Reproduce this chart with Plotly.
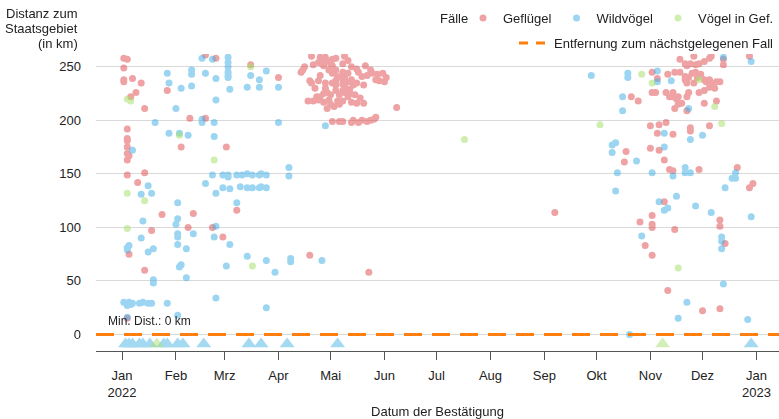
import plotly.graph_objects as go

# ---- Daten ---------------------------------------------------------------
# Geflügel: Datum der Bestätigung und Distanz zum Staatsgebiet (km)
gefluegel_datum = [
    "2022-01-02", "2022-01-04", "2022-01-02", "2022-01-02", "2022-01-02", "2022-01-07", "2022-01-12",
    "2022-01-09", "2022-01-06", "2022-01-14", "2022-01-04", "2022-01-04", "2022-01-04", "2022-01-04",
    "2022-01-04", "2022-01-05", "2022-01-04", "2022-01-04", "2022-01-14", "2022-01-10", "2022-01-27",
    "2022-02-09", "2022-02-18", "2022-02-04", "2022-03-02", "2022-02-24", "2022-02-18", "2022-03-16",
    "2022-04-01", "2022-01-24", "2022-01-18", "2022-01-05", "2022-01-14", "2022-01-04", "2022-02-11",
    "2022-02-08", "2022-02-22", "2022-02-28", "2022-03-08", "2022-04-19", "2022-05-23", "2022-06-08",
    "2022-09-07",
    "2022-04-20", "2022-04-25", "2022-04-28", "2022-05-09", "2022-04-24", "2022-04-26", "2022-04-26",
    "2022-04-27", "2022-04-27", "2022-04-29", "2022-05-01", "2022-05-02", "2022-05-08", "2022-05-11",
    "2022-05-21", "2022-04-16", "2022-04-15", "2022-04-14", "2022-05-02", "2022-05-08", "2022-05-08",
    "2022-05-11", "2022-05-17", "2022-05-19", "2022-05-22", "2022-05-25", "2022-05-28", "2022-05-31",
    "2022-06-02", "2022-05-29", "2022-06-01", "2022-04-19", "2022-04-20", "2022-04-24", "2022-04-28",
    "2022-05-02", "2022-05-04", "2022-05-08", "2022-05-08", "2022-05-09", "2022-05-13", "2022-05-16",
    "2022-05-11", "2022-05-14", "2022-04-28", "2022-05-04", "2022-05-08", "2022-05-12", "2022-04-27",
    "2022-04-29", "2022-05-01", "2022-04-23", "2022-04-25", "2022-04-18", "2022-04-21", "2022-04-24",
    "2022-04-27", "2022-04-30", "2022-05-01", "2022-05-05", "2022-05-08", "2022-05-11", "2022-05-13",
    "2022-05-16", "2022-05-20", "2022-05-12", "2022-05-09", "2022-05-02", "2022-05-06", "2022-05-08",
    "2022-05-13", "2022-05-14", "2022-05-17", "2022-05-19", "2022-05-22", "2022-05-24", "2022-05-26",
    "2022-05-27", "2022-04-21", "2022-04-30", "2022-05-04", "2022-05-05", "2022-04-25", "2022-04-22",
    "2022-05-06", "2022-05-15", "2022-05-18", "2022-05-06", "2022-05-03", "2022-04-29", "2022-05-04",
    "2022-05-02", "2022-05-13", "2022-05-16", "2022-05-24", "2022-05-27", "2022-05-20", "2022-05-09",
    "2022-05-04",
    "2022-10-21", "2022-10-25", "2022-11-02", "2022-11-05", "2022-11-11", "2022-11-15", "2022-11-18",
    "2022-11-21", "2022-11-22", "2022-11-24", "2022-11-27", "2022-11-29", "2022-12-02", "2022-12-05",
    "2022-12-06", "2022-12-13", "2022-12-13", "2022-12-28", "2022-11-26", "2022-11-18", "2022-11-21",
    "2022-11-21", "2022-11-22", "2022-11-23", "2022-11-25", "2022-11-26", "2022-11-27", "2022-11-28",
    "2022-11-30", "2022-12-02", "2022-12-04", "2022-12-05", "2022-12-06", "2022-12-08", "2022-12-09",
    "2022-12-11", "2022-11-29", "2022-12-02", "2022-12-05", "2022-12-03", "2022-11-02", "2022-11-04",
    "2022-11-10", "2022-11-12", "2022-11-14", "2022-11-14", "2022-11-16", "2022-11-17", "2022-11-19",
    "2022-11-22", "2022-11-23", "2022-11-17", "2022-11-15", "2022-11-22", "2022-12-02", "2022-12-09",
    "2022-12-05", "2022-11-24", "2022-11-24", "2022-11-01", "2022-11-06", "2022-11-10", "2022-11-05",
    "2022-11-14", "2022-10-18", "2022-11-01", "2022-11-06", "2022-11-09", "2022-10-17", "2022-11-12",
    "2022-11-14", "2022-11-29", "2022-12-21", "2022-12-30", "2022-12-28", "2022-10-26", "2022-10-29",
    "2022-11-02", "2022-11-02", "2022-11-02", "2022-11-02", "2022-11-09", "2022-11-15", "2022-12-11",
    "2022-12-11", "2022-12-14", "2022-11-11", "2022-12-01", "2022-12-11",
]
gefluegel_km = [
    258, 257, 249, 238, 236, 239, 235,
    226, 222, 211, 192, 183, 181, 175,
    169, 167, 163, 149, 151, 142, 228,
    202, 202, 175, 175, 258, 261, 252,
    240, 112, 97, 75, 60, 15, 113,
    100, 100, 91, 116, 74, 58, 212,
    114,
    260, 259, 259, 260, 254, 256, 253,
    255, 251, 255, 253, 251, 253, 256,
    251, 250, 247, 245, 244, 245, 242,
    244, 245, 241, 242, 244, 243, 244,
    240, 237, 236, 237, 235, 237, 235,
    235, 237, 238, 234, 240, 238, 235,
    236, 233, 230, 228, 228, 229, 225,
    226, 224, 222, 222, 218, 218, 219,
    217, 219, 215, 218, 218, 222, 217,
    216, 216, 225, 226, 199, 199, 199,
    198, 200, 198, 200, 199, 200, 201,
    203, 252, 247, 247, 241, 242, 230,
    224, 224, 221, 215, 213, 211, 258,
    257, 250, 248, 247, 238, 233, 232,
    233,
    222, 218, 245, 239, 243, 245, 257,
    253, 251, 253, 252, 253, 255, 258,
    260, 257, 252, 260, 260, 245, 241,
    238, 235, 240, 244, 235, 245, 240,
    243, 238, 236, 238, 235, 230, 236,
    236, 226, 228, 231, 236, 226, 226,
    226, 222, 226, 222, 220, 222, 216,
    222, 226, 215, 211, 209, 216, 218,
    195, 193, 190, 195, 196, 198, 188,
    187, 171, 174, 172, 163, 161, 154,
    153, 154, 156, 141, 137, 105, 83,
    74, 111, 103, 100, 124, 98, 107,
    101, 85, 41, 22, 24,
]

# Wildvögel
wildvoegel_datum = [
    "2022-01-27", "2022-01-28", "2022-02-04", "2022-02-10", "2022-02-10", "2022-02-10", "2022-02-18",
    "2022-02-16", "2022-02-22", "2022-02-24", "2022-02-24", "2022-02-01", "2022-01-20", "2022-02-16",
    "2022-02-16", "2022-02-23", "2022-01-28", "2022-02-03", "2022-02-08", "2022-02-23", "2022-01-07",
    "2022-01-16", "2022-02-18", "2022-03-03", "2022-03-03", "2022-03-03", "2022-03-03", "2022-03-03",
    "2022-03-04", "2022-03-14", "2022-03-21", "2022-03-21", "2022-03-25", "2022-03-16", "2022-04-01",
    "2022-04-01", "2022-04-07", "2022-04-07",
    "2022-02-22", "2022-02-28", "2022-03-03", "2022-03-08", "2022-03-11", "2022-03-14", "2022-03-17",
    "2022-03-21", "2022-03-22", "2022-03-25", "2022-03-03",
    "2022-02-28", "2022-03-04", "2022-03-10", "2022-03-14", "2022-03-17", "2022-03-21", "2022-03-22",
    "2022-03-25",
    "2022-02-24", "2022-01-12", "2022-01-18", "2022-02-02", "2022-03-08", "2022-01-13", "2022-02-02",
    "2022-02-01", "2022-02-02", "2022-02-02", "2022-02-11", "2022-01-12", "2022-01-05", "2022-01-04",
    "2022-01-04", "2022-01-19", "2022-01-16", "2022-02-02", "2022-02-07", "2022-02-23", "2022-02-24",
    "2022-03-04", "2022-03-14", "2022-03-25", "2022-04-08", "2022-04-08", "2022-03-30", "2022-03-02",
    "2022-02-03", "2022-02-04", "2022-01-19", "2022-01-19", "2022-02-07", "2022-02-24", "2022-03-25",
    "2022-01-02", "2022-01-05", "2022-01-07", "2022-01-11", "2022-01-13", "2022-01-16", "2022-01-18",
    "2022-01-27", "2022-01-04", "2022-01-06",
    "2022-02-02", "2022-01-04", "2022-04-26", "2022-04-28", "2022-03-03",
    "2022-09-28", "2022-10-16", "2022-10-16", "2022-10-19", "2022-10-19", "2022-11-05", "2022-11-05",
    "2022-11-13", "2022-12-13", "2022-12-29", "2022-11-23", "2022-11-09", "2022-11-09", "2022-11-24",
    "2022-12-01", "2022-10-10", "2022-10-12", "2022-10-10", "2022-10-24", "2022-11-21", "2022-11-21",
    "2022-11-24", "2022-11-02", "2022-11-14", "2022-10-13", "2022-12-20", "2022-12-18", "2022-12-20",
    "2022-12-14", "2022-10-12", "2022-10-27", "2022-11-06", "2022-11-09", "2022-11-11", "2022-11-16",
    "2022-11-27", "2022-12-06", "2022-12-12", "2022-12-12", "2022-12-12", "2022-12-29", "2022-12-13",
    "2022-11-22", "2022-11-17", "2022-12-27", "2022-10-20",
]
wildvoegel_km = [
    244, 235, 230, 247, 243, 232, 244,
    258, 257, 239, 219, 211, 198, 201,
    198, 198, 188, 188, 186, 185, 172,
    139, 141, 254, 250, 245, 242, 240,
    229, 231, 238, 231, 246, 242, 231,
    198, 156, 148,
    149, 149, 149, 149, 149, 150, 149,
    149, 150, 149, 147,
    137, 136, 138, 137, 137, 137, 138,
    137,
    132, 131, 132, 123, 123, 106, 108,
    103, 94, 91, 94, 90, 83, 81,
    79, 80, 77, 84, 80, 91, 101,
    84, 73, 69, 71, 68, 58, 64,
    63, 65, 51, 48, 53, 34, 25,
    30, 30, 29, 29, 30, 29, 29,
    29, 27, 28,
    18, 16, 69, 195, 259,
    242, 222, 209, 244, 240, 246, 236,
    237, 259, 255, 211, 175, 188, 182,
    186, 177, 179, 170, 162, 156, 151,
    151, 151, 148, 151, 151, 146, 146,
    137, 134, 92, 124, 116, 118, 129,
    120, 114, 91, 87, 80, 110, 47,
    30, 15, 14, 0,
]

# Vögel in Gefangenschaft
gefangen_datum = [
    "2022-01-04", "2022-01-06", "2022-01-04", "2022-01-14", "2022-01-04", "2022-02-03", "2022-02-23",
    "2022-03-16", "2022-03-17", "2022-07-17", "2022-10-03", "2022-10-27", "2022-11-02", "2022-12-08",
    "2022-12-12", "2022-11-17", "2022-11-29",
]
gefangen_km = [
    220, 218, 132, 125, 99, 186, 163,
    250, 64, 182, 196, 243, 235, 213,
    197, 62, 238,
]

# Fälle innerhalb des Staatsgebiets (Distanz 0)
wildvoegel_inland_datum = [
    "2022-01-03", "2022-01-05", "2022-01-07", "2022-01-11", "2022-01-13", "2022-01-17", "2022-01-25",
    "2022-01-27", "2022-02-02", "2022-02-05", "2022-02-17", "2022-03-15", "2022-03-22", "2022-04-06",
    "2022-05-05", "2022-12-29",
]
gefangen_inland_datum = ["2022-01-21", "2022-11-08"]

monat_ticks = [
    "2022-01-01", "2022-02-01", "2022-03-01", "2022-04-01", "2022-05-01", "2022-06-01", "2022-07-01",
    "2022-08-01", "2022-09-01", "2022-10-01", "2022-11-01", "2022-12-01", "2023-01-01",
]
monat_labels = ["Jan<br>2022", "Feb", "Mrz", "Apr", "Mai", "Jun", "Jul",
                "Aug", "Sep", "Okt", "Nov", "Dez", "Jan<br>2023"]

y_titel_zeilen = ["Distanz zum", "Staatsgebiet", "(in km)"]

# ---- Darstellung -----------------------------------------------------------
X_RANGE = ["2021-12-17", "2023-01-14"]
Y_RANGE = [-15.5, 262]
INLAND_BAND = -9          # Höhe der Dreiecke unterhalb der Nulllinie
FONT = "Liberation Sans, Arial, sans-serif"
TEXT = "#222222"

ROT = "rgb(225,87,89)"
BLAU = "rgb(74,179,230)"
GRUEN = "rgb(168,224,112)"
ORANGE = "rgb(255,127,14)"

min_dist = min(gefluegel_km + wildvoegel_km + gefangen_km)

fig = go.Figure()

for name, datum, km, farbe in [
    ("Geflügel", gefluegel_datum, gefluegel_km, ROT),
    ("Wildvögel", wildvoegel_datum, wildvoegel_km, BLAU),
    ("Vögel in Gef.", gefangen_datum, gefangen_km, GRUEN),
]:
    fig.add_trace(go.Scatter(
        x=datum, y=km, mode="markers", name=name, legend="legend",
        marker=dict(size=7, color=farbe, line=dict(width=0)),
        opacity=0.55,
    ))

# Linie der minimalen Entfernung; der Legendeneintrag nutzt ein kürzeres Strichmuster
fig.add_trace(go.Scatter(
    x=X_RANGE, y=[min_dist, min_dist], mode="lines",
    name="Entfernung zum nächstgelegenen Fall", showlegend=False,
    line=dict(color=ORANGE, width=3, dash="18px,10px"),
))
fig.add_trace(go.Scatter(
    x=[None], y=[None], mode="lines",
    name="Entfernung zum nächstgelegenen Fall", legend="legend2",
    line=dict(color=ORANGE, width=3, dash="9px,8px"),
))

for datum, farbe in [(wildvoegel_inland_datum, BLAU), (gefangen_inland_datum, GRUEN)]:
    fig.add_trace(go.Scatter(
        x=datum, y=[INLAND_BAND] * len(datum), mode="markers", showlegend=False,
        marker=dict(symbol="triangle-up", size=13, color=farbe, line=dict(width=0)),
        opacity=0.5,
    ))

fig.add_annotation(
    xref="paper", x=0.0146, y=min_dist, yshift=13,
    text=f"Min. Dist.: {min_dist} km", showarrow=False,
    xanchor="left", yanchor="middle", font=dict(size=12, color=TEXT),
)

# Achsentitel der y-Achse, rechtsbündig über den Tick-Beschriftungen
for zeile, y_pos in zip(y_titel_zeilen, [1.138, 1.0875, 1.037]):
    fig.add_annotation(
        xref="paper", yref="paper", x=-0.0234, y=y_pos,
        text=zeile, showarrow=False,
        xanchor="right", yanchor="middle", font=dict(size=13, color=TEXT),
    )

# Titel der Legende für die Fallarten
fig.add_annotation(
    xref="paper", yref="paper", x=0.5007, y=1.121,
    text="Fälle", showarrow=False,
    xanchor="left", yanchor="middle", font=dict(size=13, color=TEXT),
)

fig.update_layout(
    width=779, height=419,
    margin=dict(l=96, r=0, t=54, b=68, autoexpand=False),
    paper_bgcolor="white", plot_bgcolor="white",
    font=dict(family=FONT, size=13, color=TEXT),
    showlegend=True,
    legend=dict(
        orientation="h", traceorder="normal", x=1.0, xanchor="right", y=1.121, yanchor="middle",
        bgcolor="rgba(0,0,0,0)", font=dict(size=13),
    ),
    legend2=dict(
        orientation="h", traceorder="normal", x=1.0, xanchor="right", y=1.037, yanchor="middle",
        bgcolor="rgba(0,0,0,0)", font=dict(size=13),
    ),
    xaxis=dict(
        type="date", range=X_RANGE, tickvals=monat_ticks, ticktext=monat_labels,
        showgrid=False, zeroline=False, showline=True, linecolor="#555555", linewidth=1,
        ticks="outside", ticklen=8, tickcolor="#555555", ticklabelstandoff=4,
        tickfont=dict(size=13),
        title=dict(text="Datum der Bestätigung", standoff=8, font=dict(size=13)),
    ),
    yaxis=dict(
        range=Y_RANGE, tickvals=[0, 50, 100, 150, 200, 250],
        showgrid=True, gridcolor="#d9d9d9", gridwidth=1, zeroline=False,
        showline=False, ticks="", ticklabelstandoff=14, tickfont=dict(size=13),
    ),
)

fig.write_html("out.html")
